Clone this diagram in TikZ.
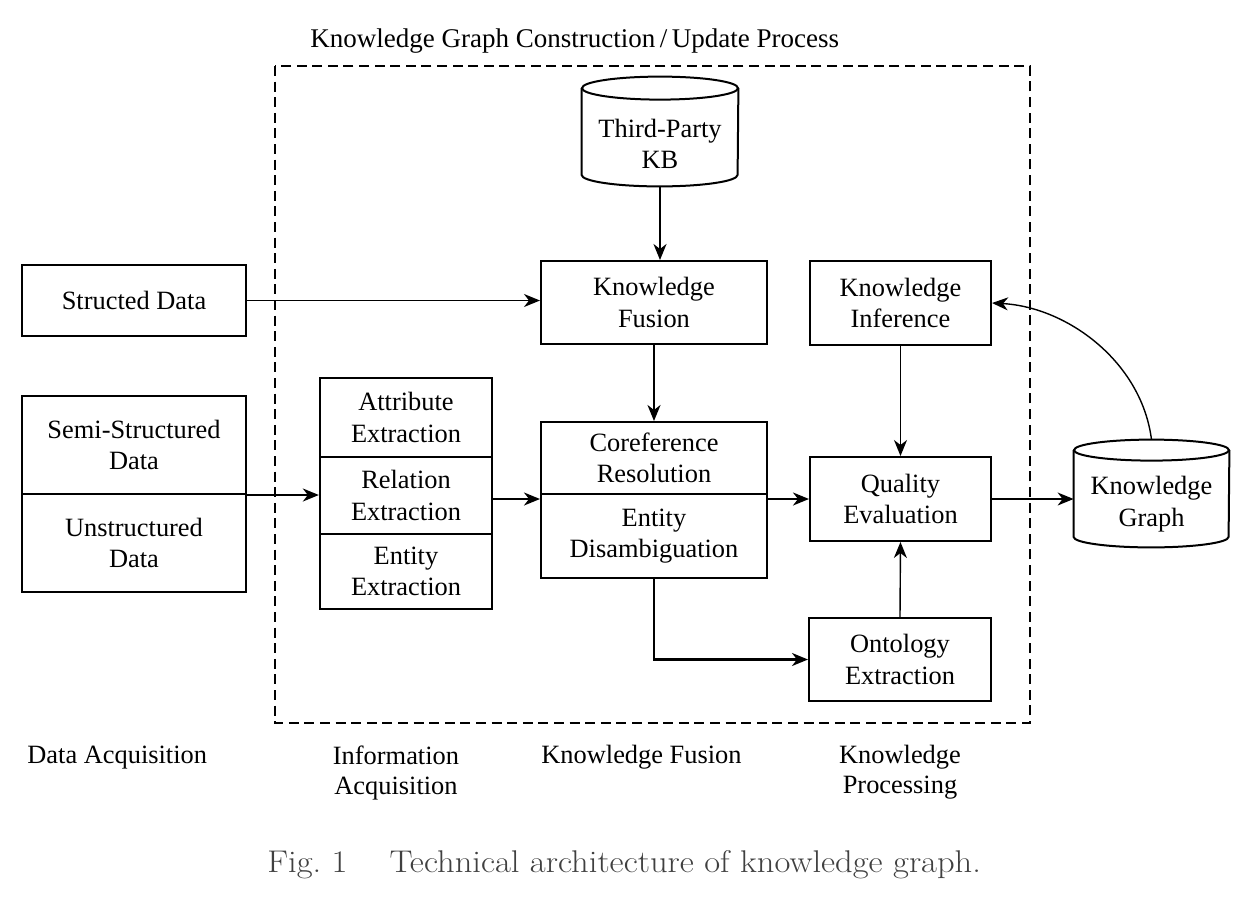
\documentclass[tikz,border=0pt]{standalone}
\usepackage{fontspec}
\newfontfamily\tnr{Liberation Serif}
\newfontfamily\capfont{Latin Modern Roman}[FakeStretch=1.1]
\usetikzlibrary{arrows.meta,calc}
\begin{document}
\begin{tikzpicture}[x=0.5pt,y=-0.5pt,
  every node/.style={font=\tnr\fontsize{13.2}{15.8}\selectfont, inner sep=0pt, align=center},
  box/.style={draw, line width=1pt},
  exbox/.style={draw, line width=1.15pt, minimum width=86pt},
  arr/.style={-{Stealth[length=8pt,width=6.5pt,inset=2.5pt]}, line width=1.1pt},
  thinarr/.style={arr, line width=0.7pt},
  frame/.style={dash pattern=on 5pt off 2.8pt, line width=0.9pt},
  cyl/.style={line width=1pt},
  lab/.style={font=\tnr\fontsize{13.2}{15}\selectfont}
]
\useasboundingbox (0,0) rectangle (1244,896);

% dashed frame and title
\draw[frame] (275,66) rectangle (1030,723);
\node[anchor=base west, font=\tnr\fontsize{13.5}{16}\selectfont] (title) at (310,47) {Knowledge Graph Construction\,/\,Update Process};

% data sources
\node[box, minimum width=112pt, minimum height=35.5pt] (sd) at (134,300.5) {Structed Data};
\node[box, minimum width=112pt, minimum height=49pt] (su) at (134,445) {Semi-Structured\\Data};
\node[box, minimum width=112pt, minimum height=49pt] (un) at (134,543) {Unstructured\\Data};

% extraction stack
\node[exbox, minimum height=39.5pt] (ae) at (406,417.5) {Attribute\\Extraction};
\node[exbox, minimum height=38.5pt] (re) at (406,495.5) {Relation\\Extraction};
\node[exbox, minimum height=37.5pt] (ee) at (406,571.5) {Entity\\Extraction};

% third-party KB cylinder
\node[minimum width=78pt, minimum height=42pt] (tp) at (660,144) {Third-Party\\KB};
\draw[cyl] ($(tp.north west)+(0,-13.5)$) -- ($(tp.south west)+(0,-11.5)$)
  arc[start angle=180,end angle=360,x radius=39pt,y radius=5.75pt]
  -- ($(tp.north east)+(0,-13.5)$);
\draw[cyl] ($(tp.north)+(0,-13.5)$) ellipse[x radius=39pt, y radius=5.75pt];

% fusion
\node[box, minimum width=113pt, minimum height=41.5pt] (kf) at (654,302.5) {Knowledge\\Fusion};
\node[box, minimum width=113pt, minimum height=36pt] (co) at (654,458) {Coreference\\Resolution};
\node[box, minimum width=113pt, minimum height=42pt] (di) at (654,536) {Entity\\Disambiguation};

% processing
\node[box, minimum width=90.5pt, minimum height=42pt] (ki) at (900.5,303) {Knowledge\\Inference};
\node[box, minimum width=90.5pt, minimum height=42pt] (q) at (900.5,499) {Quality\\Evaluation};
\node[box, minimum width=91pt, minimum height=41.5pt] (on) at (900,659.5) {Ontology\\Extraction};

% knowledge graph cylinder
\node[minimum width=77.5pt, minimum height=43pt] (kg) at (1151.5,504) {Knowledge\\Graph};
\draw[cyl] ($(kg.north west)+(0,-10.5)$) -- ($(kg.south west)+(0,-10.5)$)
  arc[start angle=180,end angle=360,x radius=38.75pt,y radius=5.25pt]
  -- ($(kg.north east)+(0,-10.5)$);
\draw[cyl] ($(kg.north)+(0,-10.5)$) ellipse[x radius=38.75pt, y radius=5.25pt];
\coordinate (kgtop) at ($(kg.north)+(0,-21)$);

% connectors
\draw[arr] (tp.south) -- (tp.south |- kf.north);
\draw[arr] (kf.south) -- (co.north);
\draw[arr, line width=0.9pt] (sd.east) -- (sd.east -| kf.west);
\draw[arr] (su.south east) -- (su.south east -| re.west);
\draw[arr] (re.east |- q.west) -- (co.west |- q.west);
\draw[arr] (co.east |- q.west) -- (q.west);
\draw[thinarr] (ki.south) -- (q.north);
\draw[thinarr] (on.north) -- (q.south);
\draw[arr] (di.south) |- (on.west);
\draw[thinarr] (q.east) -- (q.east -| kg.west);
\draw[thinarr] (kgtop) .. controls ($(kgtop)+(-10,-78)$) and ($(ki.east)+(75,4)$) .. (ki.east);

% stage labels
\node[lab, anchor=base west] (da) at (27,763) {Data Acquisition};
\node[lab, anchor=north] (ia) at (396,745) {Information\\Acquisition};
\node[lab, anchor=base west] (kfl) at (541,763) {Knowledge Fusion};
\node[lab, anchor=north] (kp) at (900,745) {Knowledge\\Processing};

% caption
\node[anchor=base west, font=\capfont\fontsize{15.7}{19}\selectfont, text=black!75] (cap) at (267,872) {Fig.~1\hspace{21pt}Technical architecture of knowledge graph.};
\end{tikzpicture}
\end{document}
